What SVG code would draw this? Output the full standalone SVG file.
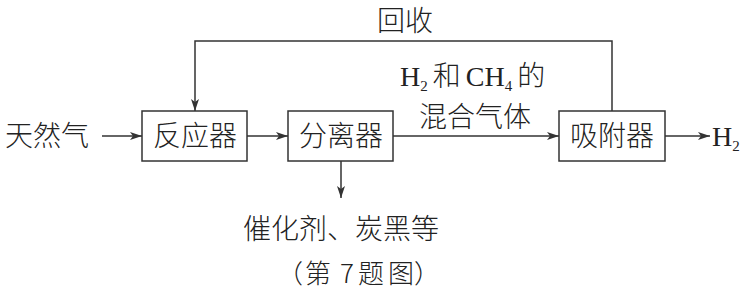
<svg xmlns="http://www.w3.org/2000/svg" width="751" height="290" viewBox="0 0 751 290">
<defs>
<marker id="ah" viewBox="0 0 12 8" refX="12" refY="4" markerWidth="12" markerHeight="8" markerUnits="userSpaceOnUse" orient="auto">
<path d="M0,0 L12,4 L0,8 L3,4 Z" fill="#333"/>
</marker>
<style>
.box{fill:#fff;stroke:#333;stroke-width:1.5}
.ln{fill:none;stroke:#333;stroke-width:1.5}
.t{font-family:"Noto Sans CJK SC","Liberation Sans",sans-serif;font-size:28px;font-weight:300;fill:#222}
.s{font-family:"Liberation Serif","Noto Sans CJK SC",serif;font-size:28px;fill:#222}
.sub{font-size:15px}
</style>
</defs>
<rect width="751" height="290" fill="#fff"/>
<g id="connectors">
<line class="ln" x1="102" y1="136" x2="142" y2="136" marker-end="url(#ah)"/>
<line class="ln" x1="247" y1="136" x2="288" y2="136" marker-end="url(#ah)"/>
<line class="ln" x1="393" y1="136" x2="559" y2="136" marker-end="url(#ah)"/>
<line class="ln" x1="665" y1="136" x2="710" y2="136" marker-end="url(#ah)"/>
<line class="ln" x1="341" y1="161" x2="341" y2="198" marker-end="url(#ah)"/>
<polyline class="ln" points="612,111 612,41 195,41 195,111" marker-end="url(#ah)"/>
</g>
<g id="label-input"><text class="t" x="47" y="146" text-anchor="middle">天然气</text></g>
<g id="node-reactor"><rect class="box" x="142" y="111" width="105" height="50"/><text class="t" x="195" y="146" text-anchor="middle">反应器</text></g>
<g id="node-separator"><rect class="box" x="288" y="111" width="105" height="50"/><text class="t" x="341" y="146" text-anchor="middle">分离器</text></g>
<g id="node-adsorber"><rect class="box" x="559" y="111" width="106" height="50"/><text class="t" x="612" y="146" text-anchor="middle">吸附器</text></g>
<g id="label-h2"><text class="s" x="712" y="146">H<tspan class="sub" dy="5">2</tspan></text></g>
<g id="label-recycle"><text class="t" x="405" y="31" text-anchor="middle">回收</text></g>
<g id="label-mix">
<text class="s" x="400" y="86">H<tspan class="sub" dy="5">2</tspan><tspan class="t" dy="-5" dx="5">和</tspan><tspan dx="5">CH</tspan><tspan class="sub" dy="5">4</tspan><tspan class="t" dy="-5" dx="5">的</tspan></text>
<text class="t" x="475" y="127" text-anchor="middle">混合气体</text>
</g>
<g id="label-byproduct"><text class="t" x="341" y="239" text-anchor="middle">催化剂、炭黑等</text></g>
<g id="caption"><text class="t" x="277 305 332 340 353 358 388 414" y="283" style="font-size:26px">（第 7 题图）</text></g>
</svg>
